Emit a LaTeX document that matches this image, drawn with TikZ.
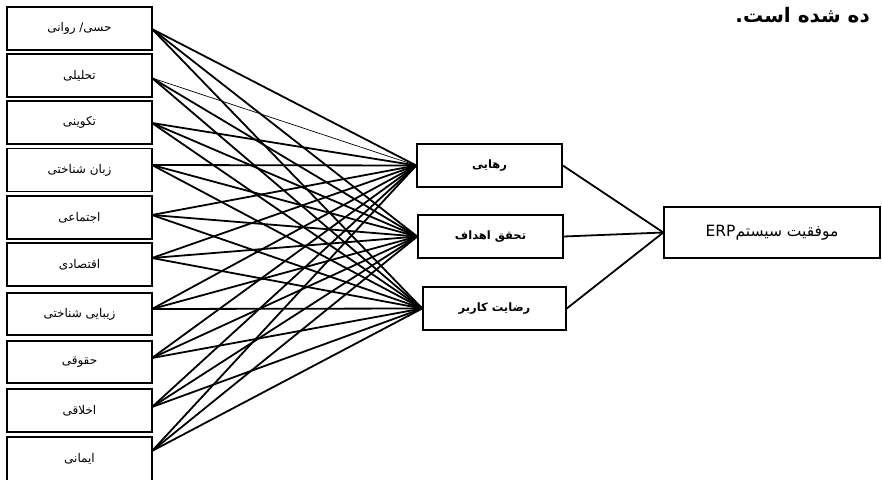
\documentclass[tikz,border=0pt]{standalone}
\usepackage{fontspec}
\newfontfamily\arabicfont[Script=Arabic]{DejaVu Sans}
\setmainfont{Liberation Sans}
\TeXXeTstate=1
\begin{document}
\begin{tikzpicture}[x=1pt,y=-1pt,
  lbox/.style={draw=black, line width=1.5pt, fill=white, minimum width=145pt, minimum height=43pt, inner sep=0pt, font=\fontsize{12}{14}\arabicfont},
  mbox/.style={draw=black, line width=1.5pt, fill=white, minimum height=43pt, inner sep=0pt, font=\fontsize{11.5}{13}\arabicfont\bfseries},
  ebox/.style={draw=black, line width=1.5pt, fill=white, minimum width=216pt, minimum height=51pt, inner sep=0pt, font=\fontsize{15.5}{18}\arabicfont},
  link/.style={draw=black, line width=1.8pt},
  thinlink/.style={draw=black, line width=0.7pt}]
\useasboundingbox (0,0) rectangle (882,479);
% left boxes
\node[lbox] (b1) at (79.5,28.5) {\beginR حسی/ روانی\endR};
\node[lbox] (b2) at (79.5,75.5) {\beginR تحلیلی\endR};
\node[lbox] (b3) at (79.5,122.5) {\beginR تکوینی\endR};
\node[lbox] (b4) at (79.5,170) {\beginR زبان شناختی\endR};
\node[lbox] (b5) at (79.5,217.5) {\beginR اجتماعی\endR};
\node[lbox] (b6) at (79.5,264.5) {\beginR اقتصادی\endR};
\node[lbox, minimum height=42pt] (b7) at (79.5,314) {\beginR زیبایی شناختی\endR};
\node[lbox, minimum height=42pt] (b8) at (79.5,362) {\beginR حقوقی\endR};
\node[lbox] (b9) at (79.5,410.5) {\beginR اخلاقی\endR};
\node[lbox, minimum height=54pt] (b10) at (79.5,464) {};
\node[font=\fontsize{12}{14}\arabicfont] (t10) at (79.5,459) {\beginR ایمانی\endR};
% source points on the boxes' right sides
\coordinate (s1) at (152,29);
\coordinate (s2) at (152,78);
\coordinate (s3) at (152,123);
\coordinate (s4) at (152,165);
\coordinate (s5) at (152,215);
\coordinate (s6) at (152,258);
\coordinate (s7) at (152,309);
\coordinate (s8) at (152,358);
\coordinate (s9) at (152,407);
\coordinate (s10) at (152,451);
% middle boxes
\node[mbox, minimum width=145pt] (m1) at (489.5,165.5) {\beginR رهایی\endR};
\node[mbox, minimum width=145pt] (m2) at (490.5,236.5) {\beginR تحقق اهداف\endR};
\node[mbox, minimum width=143pt] (m3) at (494.5,308.5) {\beginR رضایت کاربر\endR};
% ERP box
\node[ebox] (erp) at (772,232.5) {\beginR موفقیت سیستم\beginL ERP\endL\endR};
% top text fragment
\node[anchor=east, inner sep=0pt, font=\fontsize{20}{22}\arabicfont\bfseries] (top) at (870,15) {\beginR ده شده است.\endR};
% connectors
\foreach \i in {1,3,4,5,6,7,8,9,10} {
  \draw[link] (s\i) -- (m1.west);
}
\draw[thinlink] (s2) -- (m1.west);
\foreach \i in {1,...,10} {
  \draw[link] (s\i) -- (m2.west);
  \draw[link] (s\i) -- (m3.west);
}
\draw[link] (m1.east) -- (erp.west);
\draw[link] (m2.east) -- (erp.west);
\draw[link] (m3.east) -- (erp.west);
\end{tikzpicture}
\end{document}
